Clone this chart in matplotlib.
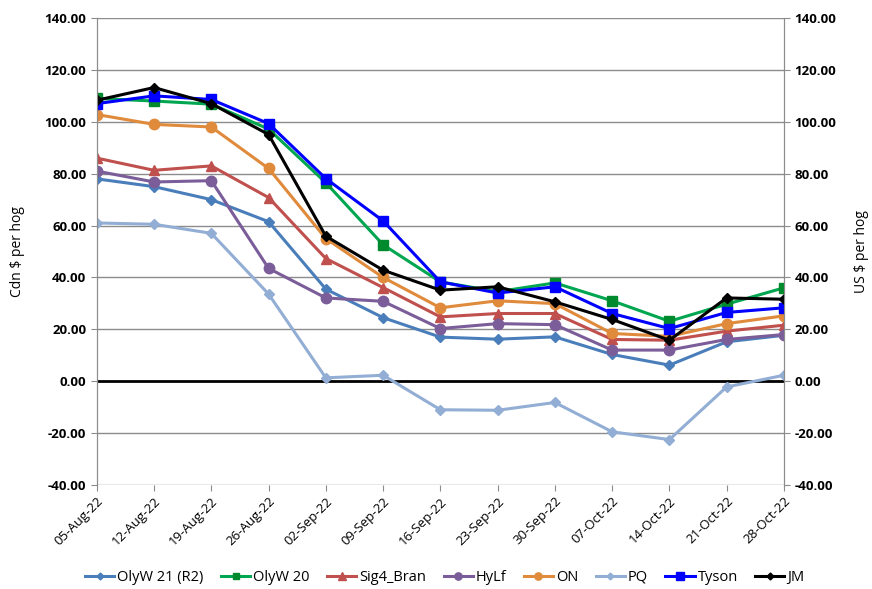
import matplotlib
matplotlib.use('Agg')
import matplotlib.pyplot as plt
import numpy as np

dates = ['05-Aug-22', '12-Aug-22', '19-Aug-22', '26-Aug-22', '02-Sep-22', '09-Sep-22',
         '16-Sep-22', '23-Sep-22', '30-Sep-22', '07-Oct-22', '14-Oct-22', '21-Oct-22',
         '28-Oct-22']

olyw21 = [78.0, 75.0, 70.0, 61.5, 35.5, 24.5, 17.0, 16.2, 17.1, 10.3, 6.2, 15.2, 17.7]
olyw20 = [109.0, 108.0, 106.8, 97.2, 76.5, 52.6, 38.3, 34.5, 37.9, 31.0, 23.1, 29.7, 36.0]
sig4_bran = [86.0, 81.3, 83.0, 70.8, 47.3, 36.1, 24.8, 26.1, 26.1, 16.1, 15.8, 19.3, 21.6]
hylf = [81.0, 76.8, 77.3, 43.5, 32.1, 30.8, 20.3, 22.2, 21.8, 12.0, 12.0, 16.1, 18.0]
on_ = [102.8, 99.0, 98.0, 82.0, 55.0, 40.0, 28.3, 31.0, 29.9, 18.4, 17.3, 22.2, 25.2]
pq = [61.0, 60.5, 57.0, 33.6, 1.3, 2.3, -11.0, -11.2, -8.2, -19.5, -22.5, -2.2, 2.3]
tyson = [107.0, 110.0, 108.6, 99.3, 78.1, 61.8, 38.3, 34.0, 36.4, 26.1, 20.3, 26.5, 28.3]
jm = [108.3, 113.2, 107.0, 95.1, 55.9, 42.8, 35.1, 36.4, 30.6, 23.8, 15.8, 32.1, 31.6]

yticks = np.arange(-40, 141, 20)

series = [
    ('OlyW 21 (R2)', olyw21, '#4A7EBB', '#4A7EBB', 'D', 5),
    ('OlyW 20', olyw20, '#00A650', '#008A2E', 's', 6.5),
    ('Sig4_Bran', sig4_bran, '#C0504D', '#C0504D', '^', 7.5),
    ('HyLf', hylf, '#7B5D99', '#7B5D99', 'o', 7.5),
    ('ON', on_, '#E08A3C', '#E08A3C', 'o', 7.5),
    ('PQ', pq, '#93AED5', '#93AED5', 'D', 5),
    ('Tyson', tyson, '#0000FF', '#0000FF', 's', 7.5),
    ('JM', jm, '#000000', '#000000', 'D', 5),
]

plt.rcParams['font.family'] = ['Open Sans', 'DejaVu Sans']

fig = plt.figure(figsize=(8.72, 5.89), dpi=100)
ax = fig.add_axes([0.111, 0.1766, 0.788, 0.7928])
x = np.arange(len(dates))

for yv in yticks:
    if yv == 0:
        continue
    ax.axhline(yv, color='#8C8C8C', lw=1.0, zorder=1)
ax.axhline(0, color='black', lw=2.0, zorder=2)

for name, vals, lc, mc, mk, ms in series:
    ax.plot(x, vals, color=lc, lw=2.2, marker=mk, markersize=ms,
            markerfacecolor=mc, markeredgecolor=mc, label=name, zorder=3)

ax.set_xlim(0, len(dates) - 1)
ax.set_ylim(-40, 140)
ax.set_yticks(yticks)
ax.set_yticklabels(['%.2f' % v for v in yticks], fontsize=9.5, fontweight='bold')
ax.set_xticks(x)
ax.set_xticklabels(dates, rotation=45, ha='right', rotation_mode='anchor', fontsize=9.5)
ax.tick_params(axis='x', length=4, color='#8C8C8C', pad=3)
ax.tick_params(axis='y', length=4, color='#8C8C8C')
ax.set_ylabel('Cdn $ per hog', fontsize=10, labelpad=14)
for side in ['top', 'bottom']:
    ax.spines[side].set_visible(False)
for side in ['left', 'right']:
    ax.spines[side].set_color('#8C8C8C')

ax2 = ax.twinx()
ax2.set_ylim(-40, 140)
ax2.set_yticks(yticks)
ax2.set_yticklabels(['%.2f' % v for v in yticks], fontsize=9.5, fontweight='bold')
ax2.tick_params(axis='y', length=4, color='#8C8C8C')
ax2.set_ylabel('US $ per hog', fontsize=10, labelpad=13)
for side in ['top', 'bottom']:
    ax2.spines[side].set_visible(False)
for side in ['left', 'right']:
    ax2.spines[side].set_color('#8C8C8C')

handles, labels = ax.get_legend_handles_labels()
fig.legend(handles, labels, loc='center', bbox_to_anchor=(0.51, 0.02), ncol=8,
           frameon=False, fontsize=10.5, handlelength=2.0, handletextpad=0.2,
           columnspacing=1.2, markerscale=0.7)

fig.savefig('out.png', dpi=100)
